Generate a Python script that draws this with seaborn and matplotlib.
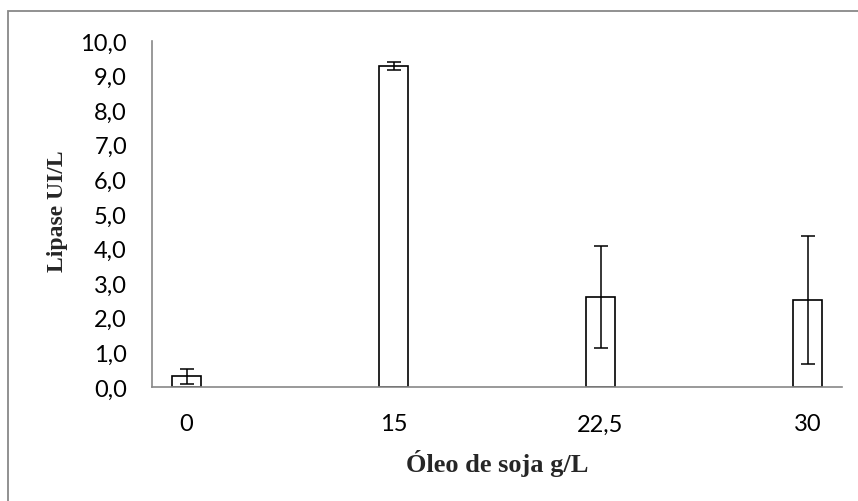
import numpy as np
import pandas as pd
import matplotlib
matplotlib.use("Agg")
import matplotlib.pyplot as plt
import matplotlib.patches as mpatches
import seaborn as sns

# data
categories = ["0", "15", "22,5", "30"]
values = [0.31, 9.27, 2.61, 2.52]
errors = [0.21, 0.12, 1.47, 1.85]
slots = ["0", "_a", "_b", "15", "_c", "_d", "22,5", "_e", "_f", "30"]
yticks = [0, 1, 2, 3, 4, 5, 6, 7, 8, 9, 10]

sns.set_style("white")
plt.rcParams['font.family'] = ['Lato', 'DejaVu Sans']

df = pd.DataFrame({"cat": categories, "val": values})

fig = plt.figure(figsize=(8.58, 5.02), dpi=100)
ax = fig.add_axes([152/858, 1-388/502, 690/858, 346/502])

sns.barplot(data=df, x="cat", y="val", order=slots, color="white",
            edgecolor="black", linewidth=1.2, width=0.41, errorbar=None, ax=ax)
for p in ax.patches:
    p.set_facecolor("white")
    p.set_edgecolor("black")

pos = [slots.index(c) for c in categories]
ax.errorbar(pos, values, yerr=errors, fmt="none", ecolor="black",
            elinewidth=1.1, capsize=5, capthick=1.1, zorder=5)

ax.set_xlim(-0.5, 9.5)
ax.set_ylim(0, 10)
ax.set_yticks(yticks)
ax.set_yticklabels([f"{v:.1f}".replace(".", ",") for v in yticks])
ax.set_xticks(pos)
ax.set_xticklabels(categories)
ax.set_xticks(np.arange(-0.5, 10, 1), minor=True)
ax.tick_params(axis="x", which="major", length=0, pad=19, labelsize=17, colors="black")
ax.tick_params(axis="x", which="minor", length=8, width=1, color="#888888", direction="out")
ax.tick_params(axis="y", which="major", length=8, width=1, color="#888888", direction="out",
               pad=10, labelsize=17, labelcolor="black")
for t in ax.get_xticklabels():
    t.set_color("black")

for s in ["top", "right"]:
    ax.spines[s].set_visible(False)
for s in ["left", "bottom"]:
    ax.spines[s].set_color("#888888")
    ax.spines[s].set_linewidth(1.2)

ax.set_xlabel("Óleo de soja g/L", fontsize=19, fontweight="bold", family="Liberation Serif")
ax.set_ylabel("Lipase UI/L", fontsize=17, fontweight="bold", family="Liberation Serif")
ax.xaxis.set_label_coords(0.5, -0.18)
ax.yaxis.set_label_coords(-0.122, 0.51)

frame = mpatches.Rectangle((8/858, -0.05), 1.2, (502-12)/502 + 0.05,
                           transform=fig.transFigure, fill=False,
                           edgecolor="#888888", linewidth=1.3)
fig.patches.append(frame)

fig.savefig("out.png", dpi=100)
